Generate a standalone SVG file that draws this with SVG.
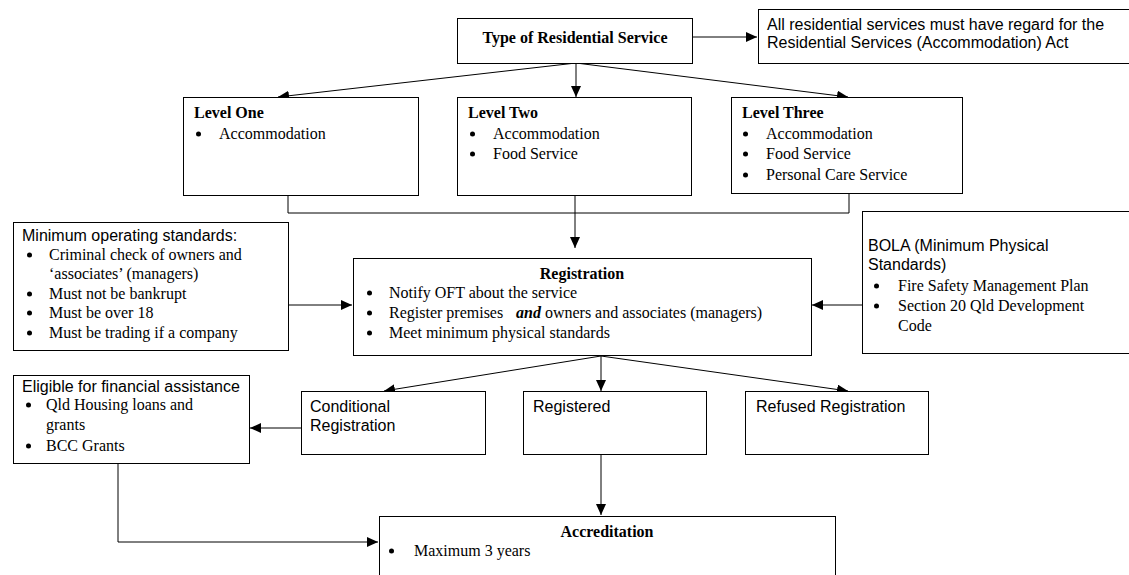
<svg xmlns="http://www.w3.org/2000/svg" width="1129" height="575" viewBox="0 0 1129 575">
<style>
.box{fill:#fff;stroke:#000;stroke-width:1}
.ln{fill:none;stroke:#000;stroke-width:1}
.t{font-family:"Liberation Serif","Times New Roman",serif;font-size:16px;fill:#000}
.b{font-family:"Liberation Serif","Times New Roman",serif;font-size:16px;font-weight:bold;fill:#000}
.s{font-family:"Liberation Sans",Arial,sans-serif;font-size:16px;fill:#000}
.dot{fill:#000}
</style>
<defs>
<marker id="ah" markerWidth="12" markerHeight="10" refX="11" refY="5" orient="auto" markerUnits="userSpaceOnUse">
<path d="M0,0 L11,5 L0,10 Z" fill="#000"/>
</marker>
</defs>
<rect width="1129" height="575" fill="#fff"/>

<g id="connectors">
<path class="ln" d="M693,37 H757" marker-end="url(#ah)"/>
<path class="ln" d="M576,63 L278,97" marker-end="url(#ah)"/>
<path class="ln" d="M576,63 V97" marker-end="url(#ah)"/>
<path class="ln" d="M576,63 L848,97" marker-end="url(#ah)"/>
<path class="ln" d="M288,196 V213 H849 V194"/>
<path class="ln" d="M575,196 V248" marker-end="url(#ah)"/>
<path class="ln" d="M288,305 H352" marker-end="url(#ah)"/>
<path class="ln" d="M862,305 H812" marker-end="url(#ah)"/>
<path class="ln" d="M601,356 L384,391" marker-end="url(#ah)"/>
<path class="ln" d="M601,356 V391" marker-end="url(#ah)"/>
<path class="ln" d="M601,356 L848,391" marker-end="url(#ah)"/>
<path class="ln" d="M301,428 H250" marker-end="url(#ah)"/>
<path class="ln" d="M601,454 V515" marker-end="url(#ah)"/>
<path class="ln" d="M118,463 V542 H378" marker-end="url(#ah)"/>
</g>

<g id="type">
<rect class="box" x="457.5" y="18.5" width="235" height="45"/>
<text class="b" x="575" y="43" text-anchor="middle">Type of Residential Service</text>
</g>

<g id="act">
<rect class="box" x="758.5" y="9.5" width="380" height="54"/>
<text class="s" x="767" y="30">All residential services must have regard for the</text>
<text class="s" x="767" y="48">Residential Services (Accommodation) Act</text>
</g>

<g id="level1">
<rect class="box" x="183.5" y="97.5" width="235" height="98"/>
<text class="b" x="194" y="118">Level One</text>
<circle class="dot" cx="198.5" cy="134" r="2.5"/>
<text class="t" x="219" y="139">Accommodation</text>
</g>

<g id="level2">
<rect class="box" x="457.5" y="97.5" width="234" height="98"/>
<text class="b" x="468" y="118">Level Two</text>
<circle class="dot" cx="472.5" cy="134" r="2.5"/>
<text class="t" x="493" y="139">Accommodation</text>
<circle class="dot" cx="472.5" cy="154" r="2.5"/>
<text class="t" x="493" y="159">Food Service</text>
</g>

<g id="level3">
<rect class="box" x="731.5" y="97.5" width="231" height="96"/>
<text class="b" x="742" y="118">Level Three</text>
<circle class="dot" cx="745.5" cy="134" r="2.5"/>
<text class="t" x="766" y="139">Accommodation</text>
<circle class="dot" cx="745.5" cy="154" r="2.5"/>
<text class="t" x="766" y="159">Food Service</text>
<circle class="dot" cx="745.5" cy="175" r="2.5"/>
<text class="t" x="766" y="180">Personal Care Service</text>
</g>

<g id="minimum">
<rect class="box" x="13.5" y="222.5" width="275" height="128"/>
<text class="s" x="22" y="241">Minimum operating standards:</text>
<circle class="dot" cx="29.5" cy="255" r="2.5"/>
<text class="t" x="49" y="260">Criminal check of owners and</text>
<text class="t" x="49" y="279">‘associates’ (managers)</text>
<circle class="dot" cx="29.5" cy="294" r="2.5"/>
<text class="t" x="49" y="299">Must not be bankrupt</text>
<circle class="dot" cx="29.5" cy="313" r="2.5"/>
<text class="t" x="49" y="318">Must be over 18</text>
<circle class="dot" cx="29.5" cy="333" r="2.5"/>
<text class="t" x="49" y="338">Must be trading if a company</text>
</g>

<g id="registration">
<rect class="box" x="353.5" y="258.5" width="458" height="97"/>
<text class="b" x="582" y="279" text-anchor="middle">Registration</text>
<circle class="dot" cx="369.5" cy="293" r="2.5"/>
<text class="t" x="389" y="298">Notify OFT about the service</text>
<circle class="dot" cx="369.5" cy="313" r="2.5"/>
<text class="t" x="389" y="318">Register premises<tspan x="516" font-weight="bold" font-style="italic">and</tspan> owners and associates (managers)</text>
<circle class="dot" cx="369.5" cy="333" r="2.5"/>
<text class="t" x="389" y="338">Meet minimum physical standards</text>
</g>

<g id="bola">
<rect class="box" x="862.5" y="211.5" width="280" height="142"/>
<text class="s" x="868" y="251">BOLA (Minimum Physical</text>
<text class="s" x="868" y="270">Standards)</text>
<circle class="dot" cx="876.5" cy="286" r="2.5"/>
<text class="t" x="898" y="291">Fire Safety Management Plan</text>
<circle class="dot" cx="876.5" cy="306" r="2.5"/>
<text class="t" x="898" y="311">Section 20 Qld Development</text>
<text class="t" x="898" y="331">Code</text>
</g>

<g id="eligible">
<rect class="box" x="13.5" y="375.5" width="236" height="88"/>
<text class="s" x="22" y="392">Eligible for financial assistance</text>
<circle class="dot" cx="28.5" cy="405" r="2.5"/>
<text class="t" x="46" y="410">Qld Housing loans and</text>
<text class="t" x="46" y="430">grants</text>
<circle class="dot" cx="28.5" cy="446" r="2.5"/>
<text class="t" x="46" y="451">BCC Grants</text>
</g>

<g id="conditional">
<rect class="box" x="301.5" y="391.5" width="184" height="63"/>
<text class="s" x="310" y="412">Conditional</text>
<text class="s" x="310" y="431">Registration</text>
</g>

<g id="registered">
<rect class="box" x="523.5" y="391.5" width="183" height="63"/>
<text class="s" x="533" y="412">Registered</text>
</g>

<g id="refused">
<rect class="box" x="745.5" y="391.5" width="183" height="63"/>
<text class="s" x="756" y="412">Refused Registration</text>
</g>

<g id="accreditation">
<rect class="box" x="379.5" y="516.5" width="456" height="90"/>
<text class="b" x="607" y="537" text-anchor="middle">Accreditation</text>
<circle class="dot" cx="391.5" cy="551" r="2.5"/>
<text class="t" x="414" y="556">Maximum 3 years</text>
</g>
</svg>
